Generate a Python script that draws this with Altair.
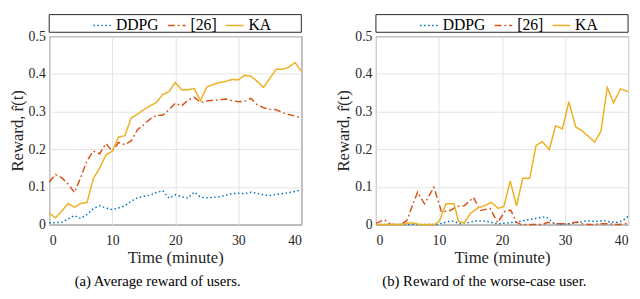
import altair as alt
import pandas as pd

# ---------------- data ----------------
SERIES = ["DDPG", "[26]", "KA"]
COLORS = ["#0072BD", "#D95319", "#EDB120"]
DASHES = [[1.5, 2.6], [7, 3, 1.8, 3], [1, 0]]

# (a) average reward, sampled every minute
TIME_A = list(range(0, 41))
A_DDPG = [0.005, 0.005, 0.006, 0.015, 0.024, 0.016, 0.027, 0.042, 0.050, 0.044,
          0.040, 0.044, 0.050, 0.062, 0.071, 0.075, 0.078, 0.085, 0.090, 0.070,
          0.079, 0.074, 0.070, 0.086, 0.073, 0.071, 0.072, 0.074, 0.078, 0.082,
          0.083, 0.082, 0.086, 0.083, 0.079, 0.077, 0.080, 0.082, 0.085, 0.088,
          0.092]
A_26 = [0.113, 0.133, 0.124, 0.108, 0.085, 0.125, 0.170, 0.195, 0.188, 0.215,
        0.195, 0.218, 0.212, 0.222, 0.252, 0.265, 0.280, 0.290, 0.290, 0.305,
        0.322, 0.315, 0.330, 0.338, 0.324, 0.328, 0.330, 0.331, 0.333, 0.329,
        0.326, 0.327, 0.335, 0.318, 0.310, 0.306, 0.305, 0.297, 0.292, 0.288,
        0.283]
A_KA = [0.030, 0.018, 0.036, 0.056, 0.046, 0.056, 0.059, 0.122, 0.150, 0.185,
        0.195, 0.232, 0.236, 0.283, 0.293, 0.305, 0.315, 0.324, 0.345, 0.353,
        0.377, 0.358, 0.358, 0.361, 0.329, 0.365, 0.372, 0.377, 0.380, 0.385,
        0.384, 0.396, 0.394, 0.380, 0.364, 0.388, 0.412, 0.412, 0.418, 0.430,
        0.407]

# (b) worse-case user, vertices read per series
B_DDPG_T = [0, 5, 6, 7, 9.5, 10.6, 11.4, 12.2, 13.4, 14.5, 16, 17.4, 19.2, 20.7,
            22.3, 23.6, 24.9, 26.2, 26.9, 27.4, 28.2, 29.5, 30.8, 32.1, 33.4,
            34.4, 35.5, 36.2, 37.3, 38.3, 39.1, 40]
B_DDPG = [0.0, 0.0, 0.001, 0.0, 0.0, 0.004, 0.008, 0.009, 0.002, 0.005, 0.010,
          0.009, 0.002, 0.004, 0.007, 0.011, 0.015, 0.019, 0.021, 0.016, 0.003,
          0.001, 0.002, 0.006, 0.010, 0.009, 0.009, 0.011, 0.006, 0.006, 0.010,
          0.022]
B_26_T = [0, 1.3, 2.3, 4, 4.9, 6.6, 7.7, 9.2, 10.4, 11.6, 12.9, 14, 15.5, 16.5,
          18.1, 19.3, 20.5, 21.4, 22.3, 23.1, 26.5, 27.2, 28, 29, 30.5, 31.9,
          32.7, 34, 35.7, 37, 38.5, 39.5, 40]
B_26 = [0.003, 0.013, 0.001, 0.0, 0.011, 0.086, 0.055, 0.099, 0.034, 0.036,
        0.048, 0.050, 0.072, 0.037, 0.043, 0.005, 0.036, 0.038, 0.006, 0.0,
        0.0, 0.006, 0.004, 0.002, 0.002, 0.007, 0.002, 0.0, 0.002, 0.002, 0.0,
        0.002, 0.005]
B_KA_T = [0, 4.3, 5, 6, 7, 9.3, 10.1, 11.1, 12.4, 13.1, 14, 15, 16.3, 17.2,
          18.3, 19.4, 20.3, 21.3, 22.3, 23.3, 24.4, 25.4, 26.4, 27.5, 28.5,
          29.6, 30.6, 31.7, 32.7, 34.7, 35.7, 36.7, 37.7, 38.8, 40]
B_KA = [0.0, 0.0, 0.004, 0.004, 0.0, 0.0, 0.010, 0.055, 0.055, 0.008, 0.004,
        0.030, 0.045, 0.050, 0.059, 0.043, 0.048, 0.116, 0.050, 0.123, 0.123,
        0.210, 0.220, 0.199, 0.262, 0.254, 0.326, 0.259, 0.249, 0.219, 0.248,
        0.364, 0.323, 0.360, 0.353]

Y_TICKS = [0, 0.1, 0.2, 0.3, 0.4, 0.5]
X_TICKS = [0, 10, 20, 30, 40]


def frame(pairs):
    rows = []
    for name, ts, vs in pairs:
        for i, (t, v) in enumerate(zip(ts, vs)):
            rows.append({"t": t, "r": v, "series": name, "order": i})
    return pd.DataFrame(rows)


df_a = frame([("DDPG", TIME_A, A_DDPG), ("[26]", TIME_A, A_26), ("KA", TIME_A, A_KA)])
df_b = frame([("DDPG", B_DDPG_T, B_DDPG), ("[26]", B_26_T, B_26), ("KA", B_KA_T, B_KA)])

FONT = "Liberation Serif"
W, H = 257, 192
BOX_TOP, BOX_BOTTOM = -22, -4
EDGE = "#262626"

AXIS_STYLE = dict(
    labelFont=FONT, labelFontSize=14, labelColor=EDGE,
    titleFont=FONT, titleFontSize=17, titleFontWeight="normal", titleColor=EDGE,
    grid=True, gridColor="#e3e3e3", gridWidth=1, domain=False, ticks=False,
)


def panel(df, caption):
    legend = alt.Legend(
        orient="none", legendX=44, legendY=-21, direction="horizontal",
        title=None, symbolType="stroke", symbolSize=324, symbolStrokeWidth=1.5,
        labelFont=FONT, labelFontSize=16, labelFontWeight="normal",
        labelColor="#000000", labelOffset=4, columnPadding=6, padding=0,
    )
    lines = alt.Chart(df).mark_line(strokeWidth=1.5).encode(
        x=alt.X("t:Q", scale=alt.Scale(domain=[0, 40], nice=False),
                axis=alt.Axis(values=X_TICKS, title="Time (minute)", format="d",
                              labelPadding=9, titlePadding=3, **AXIS_STYLE)),
        y=alt.Y("r:Q", scale=alt.Scale(domain=[0, 0.5], nice=False),
                axis=alt.Axis(values=Y_TICKS, title="Reward, r̂(t)", format=".1~f",
                              labelPadding=4, titlePadding=2, **AXIS_STYLE)),
        color=alt.Color("series:N", scale=alt.Scale(domain=SERIES, range=COLORS),
                        legend=legend, sort=SERIES),
        strokeDash=alt.StrokeDash("series:N", scale=alt.Scale(domain=SERIES, range=DASHES),
                                  legend=legend, sort=SERIES),
        order="order:Q",
    )
    one = pd.DataFrame({"k": [0]})
    rule = alt.Chart(one).mark_rule(strokeWidth=1)
    top = rule.encode(x=alt.value(0), x2=alt.value(W), y=alt.value(BOX_TOP),
                      color=alt.value(EDGE))
    bottom = rule.encode(x=alt.value(0), x2=alt.value(W), y=alt.value(BOX_BOTTOM),
                         color=alt.value(EDGE))
    lft = rule.encode(x=alt.value(0), y=alt.value(BOX_TOP), y2=alt.value(BOX_BOTTOM),
                      color=alt.value(EDGE))
    rgt = rule.encode(x=alt.value(W), y=alt.value(BOX_TOP), y2=alt.value(BOX_BOTTOM),
                      color=alt.value(EDGE))
    return alt.layer(lines, top, bottom, lft, rgt).properties(
        width=W, height=H,
        title=alt.TitleParams(caption, orient="bottom", anchor="middle", dx=-18,
                              offset=9, font=FONT, fontSize=15, fontWeight="normal",
                              color="#000000"),
    )


left = panel(df_a, "(a) Average reward of users.")
right = panel(df_b, "(b) Reward of the worse-case user.")

chart = alt.hconcat(left, right, spacing=30).resolve_scale(
    color="independent", strokeDash="independent"
).resolve_legend(color="independent", strokeDash="independent").properties(
    padding={"top": 3, "left": 0, "right": 0, "bottom": 0}
).configure_view(
    stroke=EDGE, strokeWidth=1
)

chart.save("out.html", embed_options={"renderer": "svg", "actions": False})
